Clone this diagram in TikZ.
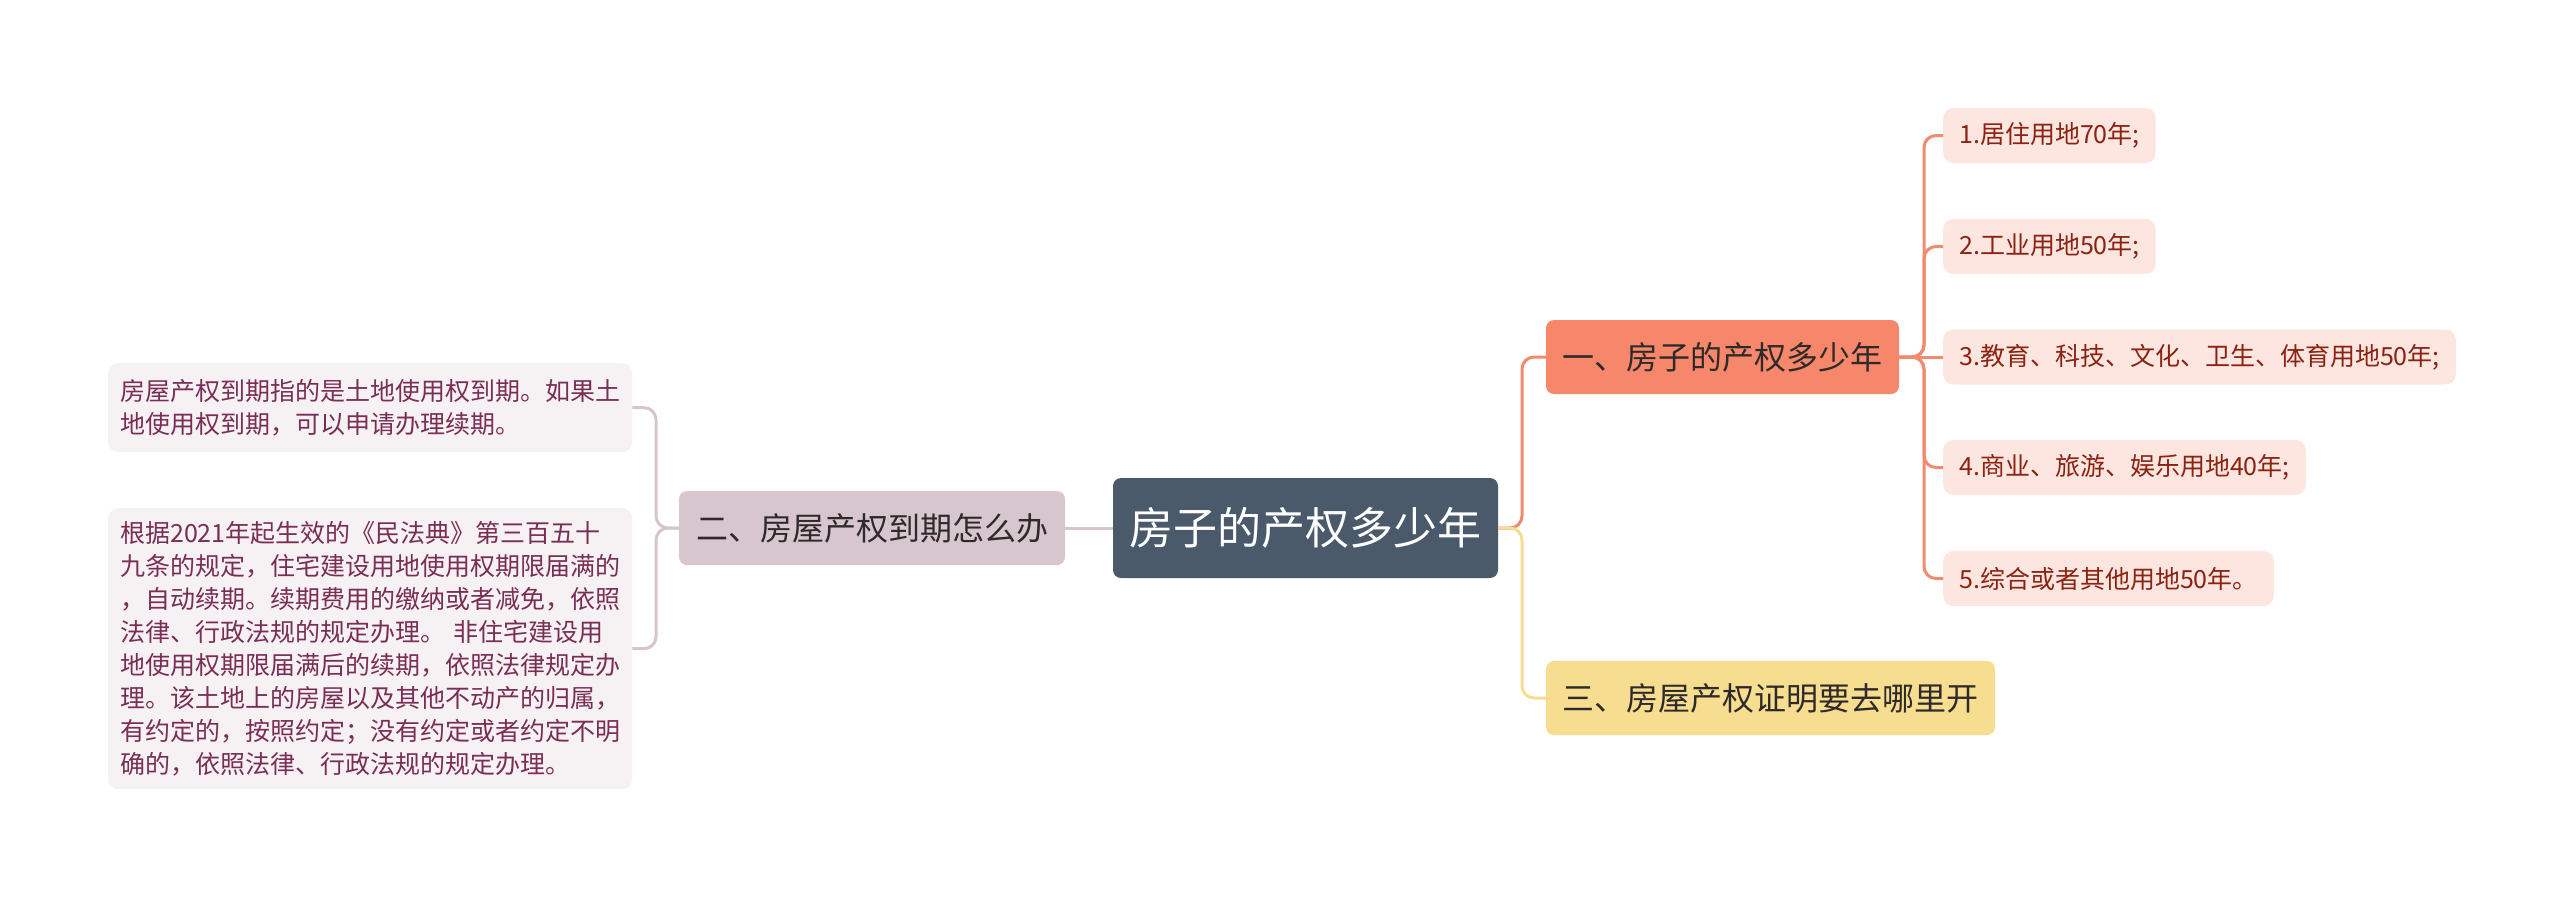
\documentclass[tikz,border=0pt]{standalone}
\usepackage{fontspec}
\setmainfont{Noto Sans CJK SC}
\definecolor{rootfill}{HTML}{4A5A6A}
\definecolor{erfill}{HTML}{D8C6CF}
\definecolor{erline}{HTML}{D6C5CD}
\definecolor{notefill}{HTML}{F6F1F3}
\definecolor{notetext}{HTML}{7A2E55}
\definecolor{yifill}{HTML}{F6876A}
\definecolor{yiline}{HTML}{F28A6E}
\definecolor{leaffill}{HTML}{FDE6DF}
\definecolor{leaftext}{HTML}{8B2212}
\definecolor{sanfill}{HTML}{F6DD8F}
\definecolor{darktext}{HTML}{2E2A2A}
\begin{document}
\begin{tikzpicture}[x=1pt,y=-1pt,
  box/.style={rounded corners=8pt, align=center, inner sep=0pt},
  rootbox/.style={box, fill=rootfill, text=white, font=\fontsize{44}{52}\selectfont},
  mainbox/.style={box, text=darktext, minimum height=74pt, font=\fontsize{32}{38}\selectfont},
  leafbox/.style={box, fill=leaffill, text=leaftext, anchor=west, inner xsep=16pt, minimum height=55pt, rounded corners=10pt, font=\fontsize{25}{30}\selectfont},
  notebox/.style={box, fill=notefill, text=notetext, anchor=north west, align=left, text width=500pt, inner xsep=12pt, minimum width=524pt, rounded corners=10pt, font=\fontsize{25}{33}\selectfont},
  conn/.style={line width=3pt, rounded corners=12pt}
]
\useasboundingbox (0,0) rectangle (2560,897);

% nodes
\node[rootbox, minimum width=385pt, minimum height=100pt] (root) at (1305.5,528) {房子的产权多少年};
\node[mainbox, fill=erfill, minimum width=386pt] (er) at (872,528) {二、房屋产权到期怎么办};
\node[mainbox, fill=yifill, minimum width=353pt] (yi) at (1722.5,357) {一、房子的产权多少年};
\node[mainbox, fill=sanfill, minimum width=449pt] (san) at (1770.5,698) {三、房屋产权证明要去哪里开};

\node[leafbox] (l1) at (1943,135.5) {1.居住用地70年;};
\node[leafbox] (l2) at (1943,246.5) {2.工业用地50年;};
\node[leafbox] (l3) at (1943,357) {3.教育、科技、文化、卫生、体育用地50年;};
\node[leafbox] (l4) at (1943,467.5) {4.商业、旅游、娱乐用地40年;};
\node[leafbox] (l5) at (1943,578.5) {5.综合或者其他用地50年。};

\node[notebox, minimum height=89pt] (na) at (108,363) {房屋产权到期指的是土地使用权到期。如果土\\地使用权到期，可以申请办理续期。};
\node[notebox, minimum height=281pt] (nb) at (108,508) {根据2021年起生效的《民法典》第三百五十\\九条的规定，住宅建设用地使用权期限届满的\\，自动续期。续期费用的缴纳或者减免，依照\\法律、行政法规的规定办理。 非住宅建设用\\地使用权期限届满后的续期，依照法律规定办\\理。该土地上的房屋以及其他不动产的归属，\\有约定的，按照约定；没有约定或者约定不明\\确的，依照法律、行政法规的规定办理。};

% junction coordinates
\coordinate (lj) at (656,528);
\coordinate (rj) at (1522,528);
\coordinate (yj) at (1924,357);

% connectors
\draw[conn, erline] (root.west) -- (er.east);
\draw[conn, erline] (er.west) -- (lj) |- (na.east);
\draw[conn, erline] (er.west) -- (lj) |- (nb.east);
\draw[conn, yiline] (root.east) -- (rj) |- (yi.west);
\draw[conn, sanfill] (root.east) -- (rj) |- (san.west);
\foreach \l in {l1,l2,l4,l5}{
  \draw[conn, yiline] (yi.east) -- (yj) |- (\l.west);
}
\draw[conn, yiline] (yi.east) -- (l3.west);
\end{tikzpicture}
\end{document}
